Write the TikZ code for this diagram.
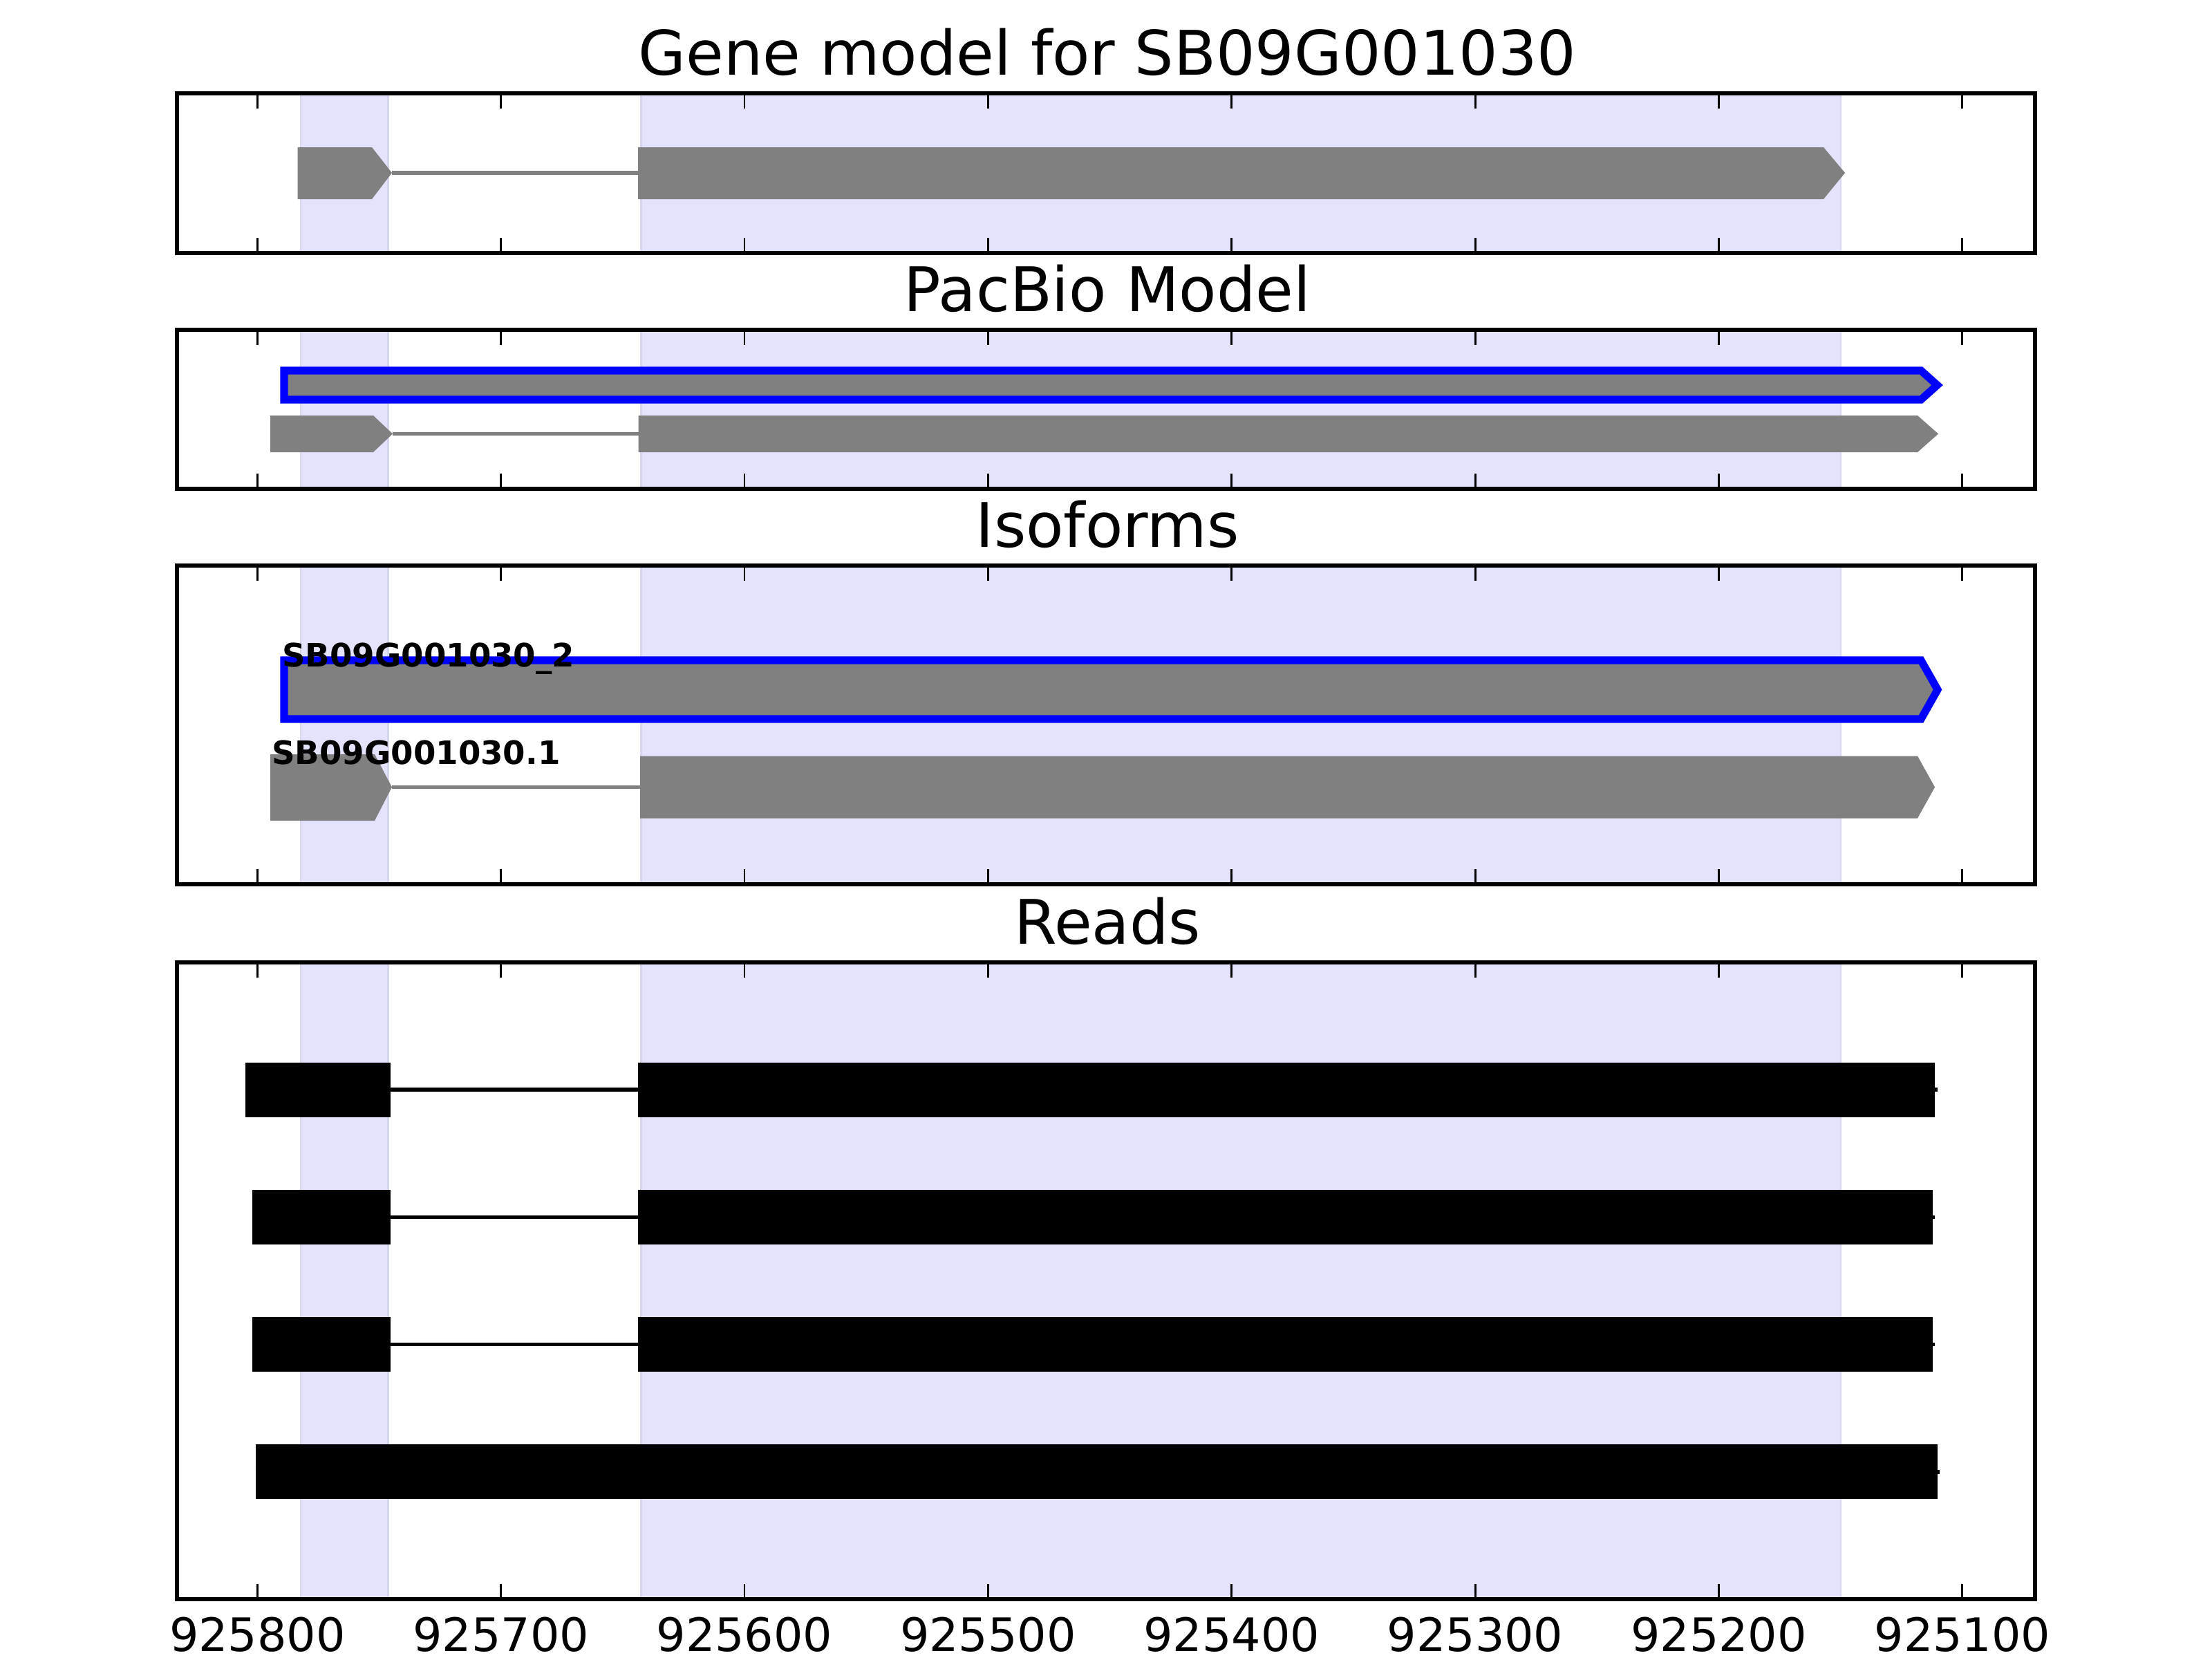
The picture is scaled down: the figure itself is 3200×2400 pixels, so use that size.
\documentclass[tikz,border=0pt]{standalone}
\usepackage{fontspec}
\setmainfont{DejaVu Sans}
\definecolor{spanblue}{RGB}{227,227,253}
\definecolor{spanedge}{RGB}{214,214,238}
\definecolor{exongray}{RGB}{128,128,128}
\begin{document}
\begin{tikzpicture}[x=0.18pt,y=-0.18pt,
  frame/.style={draw=black,line width=1pt},
  spanbox/.style={fill=spanblue},
  spanline/.style={draw=spanedge,line width=0.45pt},
  tickmark/.style={draw=black,line width=0.5pt},
  exon/.style={fill=exongray},
  intron/.style={draw=exongray,line width=1pt},
  pacbio/.style={fill=exongray,draw=blue,line width=2pt,miter limit=10},
  readexon/.style={fill=black},
  readline/.style={draw=black,line width=1pt},
  ptitle/.style={anchor=base,inner sep=0pt,font=\fontsize{16}{19}\selectfont},
  ticklabel/.style={anchor=base,inner sep=0pt,font=\fontsize{12}{14}\selectfont},
  isolabel/.style={anchor=base west,inner sep=0pt,font=\fontsize{8.4}{10}\selectfont\bfseries}]
\useasboundingbox (0,0) rectangle (3200,2400);
\fill[white] (0,0) rectangle (3200,2400);

% shaded spans for every panel
\foreach \t/\b in {135/366,477/707,818/1279,1392/2313}{
  \fill[spanbox] (435,\t) rectangle (561.4,\b);
  \fill[spanbox] (927.5,\t) rectangle (2662.7,\b);
  \draw[spanline] (435,\t) -- (435,\b);
  \draw[spanline] (561.4,\t) -- (561.4,\b);
  \draw[spanline] (927.5,\t) -- (927.5,\b);
  \draw[spanline] (2662.7,\t) -- (2662.7,\b);
}

% ---------- Panel 1: gene model ----------
\fill[exon] (430.6,213) -- (538,213) -- (567,250) -- (538,288) -- (430.6,288) -- cycle;
\draw[intron] (567,250) -- (923,250);
\fill[exon] (923,213) -- (2638,213) -- (2669,250) -- (2638,288) -- (923,288) -- cycle;

% ---------- Panel 2: PacBio model ----------
\draw[pacbio] (411,536) -- (2779,536) -- (2802.5,557) -- (2779,578) -- (411,578) -- cycle;
\fill[exon] (391,601) -- (540,601) -- (568,627.5) -- (540,654) -- (391,654) -- cycle;
\draw[intron] (568,627.5) -- (923.5,627.5);
\fill[exon] (923.5,601) -- (2774,601) -- (2804,627.5) -- (2774,654) -- (923.5,654) -- cycle;

% ---------- Panel 3: isoforms ----------
\draw[pacbio] (411,955) -- (2779,955) -- (2803,997.5) -- (2779,1040) -- (411,1040) -- cycle;
\fill[exon] (391,1091) -- (542,1091) -- (567,1138.5) -- (542,1187) -- (391,1187) -- cycle;
\draw[intron] (567,1138.5) -- (926,1138.5);
\fill[exon] (926,1093.5) -- (2774,1093.5) -- (2799,1138.5) -- (2774,1183.5) -- (926,1183.5) -- cycle;
\node[isolabel] (iso2) at (407,964) {SB09G001030\_2};
\node[isolabel] (iso1) at (392,1105.5) {SB09G001030.1};

% ---------- Panel 4: reads ----------
% read 1
\draw[readline] (355,1576) -- (2803,1576);
\fill[readexon] (355,1536.5) rectangle (564.6,1615.5);
\fill[readexon] (922.6,1536.5) rectangle (2798.7,1615.5);
% read 2
\draw[readline] (365,1760.3) -- (2799,1760.3);
\fill[readexon] (365,1720.8) rectangle (564.6,1799.8);
\fill[readexon] (922.6,1720.8) rectangle (2795.7,1799.8);
% read 3
\draw[readline] (365,1944.5) -- (2799,1944.5);
\fill[readexon] (365,1905) rectangle (564.6,1984);
\fill[readexon] (922.6,1905) rectangle (2795.7,1984);
% read 4
\draw[readline] (369.6,2128.8) -- (2806,2128.8);
\fill[readexon] (369.6,2089.3) rectangle (2803.3,2168.3);

% ticks and frames
\foreach \t/\b in {135/366,477/707,818/1279,1392/2313}{
  \foreach \k in {0,...,7}{
    \draw[tickmark] ({372.3+352.36*\k},\t) -- ++(0,22);
    \draw[tickmark] ({372.3+352.36*\k},\b) -- ++(0,-22);
  }
  \draw[frame] (256,\t) rectangle (2944,\b);
}

% titles
\node[ptitle] (t1) at (1602,108) {Gene model for SB09G001030};
\node[ptitle] (t2) at (1602,450) {PacBio Model};
\node[ptitle] (t3) at (1602,791) {Isoforms};
\node[ptitle] (t4) at (1602,1365) {Reads};

% tick labels
\foreach \k/\v in {0/925800,1/925700,2/925600,3/925500,4/925400,5/925300,6/925200,7/925100}{
  \node[ticklabel] (tl\k) at ({372.3+352.36*\k},2388) {\v};
}
\end{tikzpicture}
\end{document}
